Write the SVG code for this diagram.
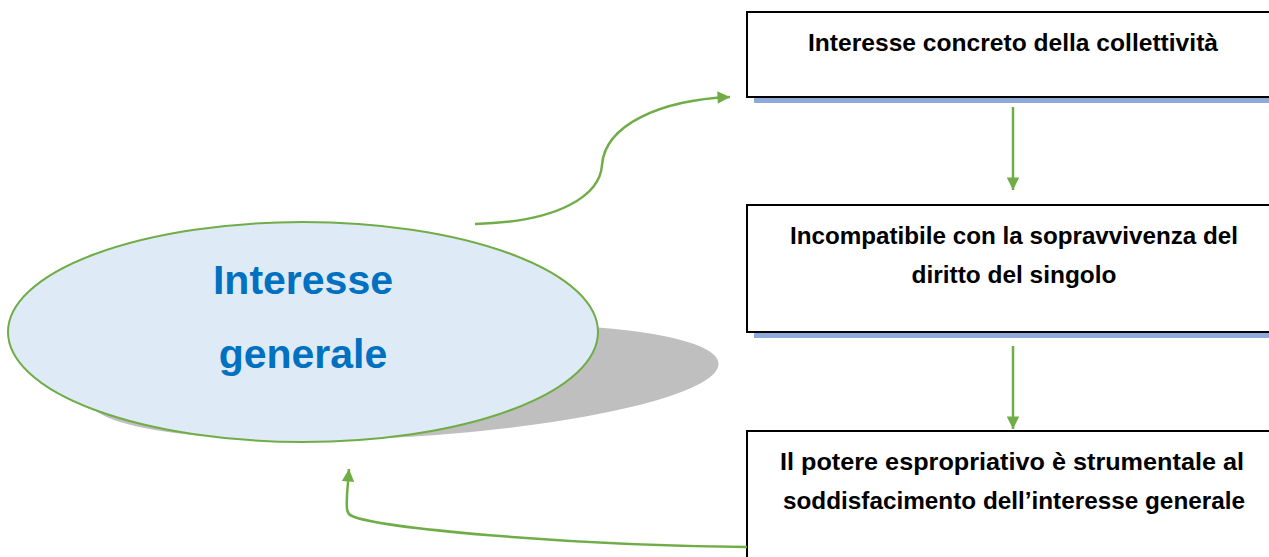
<svg xmlns="http://www.w3.org/2000/svg" width="1269" height="557" viewBox="0 0 1269 557">
<style>
.box{fill:#fff;stroke:#000;stroke-width:2}
.sh{fill:#8EAADB}
.bt{font-family:"Liberation Sans",Arial,sans-serif;font-weight:bold;font-size:24px;fill:#000;text-anchor:middle}
.et{font-family:"Liberation Sans",Arial,sans-serif;font-weight:bold;font-size:41px;fill:#0070C0;text-anchor:middle}
.con{fill:none;stroke:#70AD47;stroke-width:2.5}
</style>
<defs>
<marker id="ah" viewBox="0 0 10 10" refX="10" refY="5" markerWidth="6" markerHeight="5" markerUnits="strokeWidth" orient="auto">
<path d="M0,0 L10,5 L0,10 z" fill="#70AD47"/>
</marker>
</defs>
<g id="ellipse-node">
<ellipse cx="404" cy="382" rx="315" ry="55" transform="rotate(-3.4 404 382)" fill="#BFBFBF"/>
<ellipse cx="303" cy="332" rx="295" ry="110" fill="#DEEAF6" stroke="#70AD47" stroke-width="2"/>
<text class="et" x="303" y="294">Interesse</text>
<text class="et" x="303" y="368">generale</text>
</g>
<g id="box1">
<rect class="sh" x="754" y="98" width="520" height="5"/>
<rect class="box" x="747" y="12" width="530" height="85"/>
<text class="bt" x="1013" y="51" textLength="410" lengthAdjust="spacingAndGlyphs">Interesse concreto della collettività</text>
</g>
<g id="box2">
<rect class="sh" x="754" y="333" width="520" height="5"/>
<rect class="box" x="747" y="205" width="530" height="127"/>
<text class="bt" x="1014" y="244" textLength="448" lengthAdjust="spacingAndGlyphs">Incompatibile con la sopravvivenza del</text>
<text class="bt" x="1014" y="283" textLength="205" lengthAdjust="spacingAndGlyphs">diritto del singolo</text>
</g>
<g id="box3">
<rect class="box" x="747" y="431" width="530" height="140"/>
<text class="bt" x="1012" y="470" textLength="464" lengthAdjust="spacingAndGlyphs">Il potere espropriativo è strumentale al</text>
<text class="bt" x="1014" y="509" textLength="462" lengthAdjust="spacingAndGlyphs">soddisfacimento dell’interesse generale</text>
</g>
<g id="connectors">
<path class="con" d="M475,224 C560,222 600,195 602,165 C605,125 660,100 730,97" marker-end="url(#ah)"/>
<path class="con" d="M1013,107 L1013,190" marker-end="url(#ah)"/>
<path class="con" d="M1013,346 L1013,429" marker-end="url(#ah)"/>
<path class="con" d="M747,547 C560,545 380,528 352,516 C345,513 347,505 347,495 L349,469" marker-end="url(#ah)"/>
</g>
</svg>
